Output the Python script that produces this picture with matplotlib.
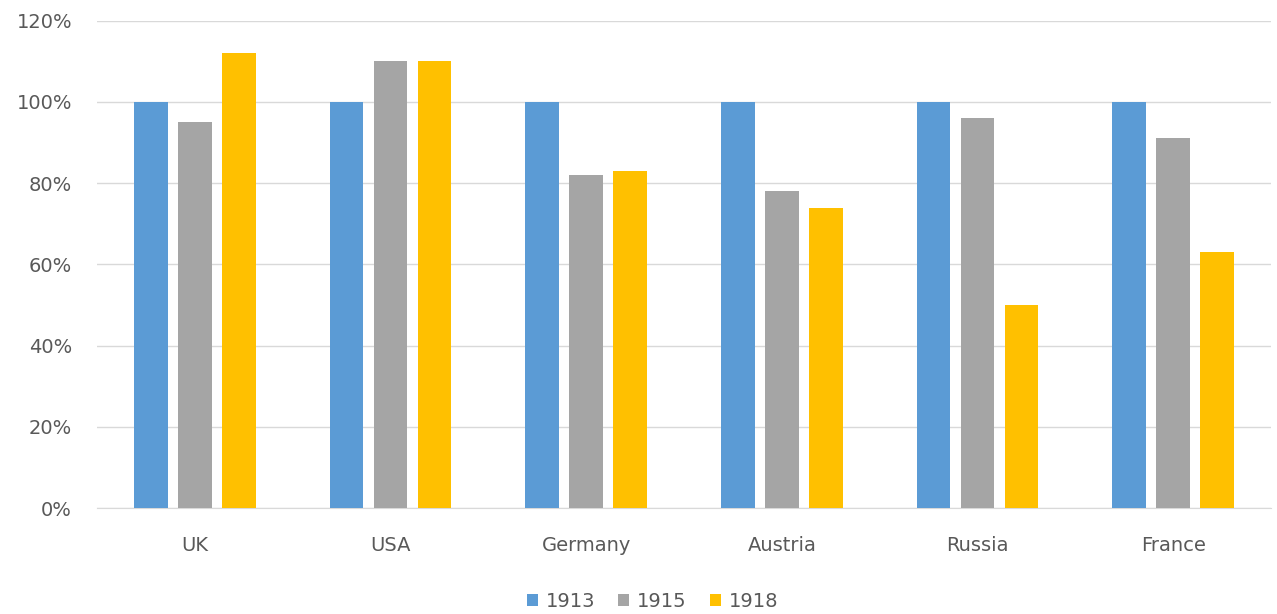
import matplotlib
matplotlib.use("Agg")
import matplotlib.pyplot as plt
import numpy as np
from matplotlib.ticker import PercentFormatter

# Données
countries = ["UK", "USA", "Germany", "Austria", "Russia", "France"]
years = ["1913", "1915", "1918"]
v1913 = [100, 100, 100, 100, 100, 100]
v1915 = [95, 110, 82, 78, 96, 91]
v1918 = [112, 110, 83, 74, 50, 63]
colors = ["#5B9BD5", "#A5A5A5", "#FFC000"]

plt.rcParams['font.family'] = ['DejaVu Sans']

fig = plt.figure(figsize=(12.77, 6.14), dpi=100)
ax = fig.add_axes([0.076, 0.1726, 0.9193, 0.7937])

x = np.arange(len(countries))
width = 0.172
step = 0.225
for i, (vals, col, lab) in enumerate(zip([v1913, v1915, v1918], colors, years)):
    ax.bar(x + (i - 1) * step, vals, width, color=col, label=lab, zorder=3)

# Axes et quadrillage
ax.set_xlim(-0.5, len(countries) - 0.5)
ax.set_ylim(0, 120)
ax.set_yticks(np.arange(0, 121, 20))
ax.yaxis.set_major_formatter(PercentFormatter(decimals=0))
ax.set_xticks(x)
ax.set_xticklabels(countries)
ax.grid(axis='y', color='#D9D9D9', linewidth=1, zorder=0)
for s in ["top", "right", "left"]:
    ax.spines[s].set_visible(False)
ax.spines["bottom"].set_color('#D9D9D9')
ax.tick_params(axis='both', length=0, labelsize=14, labelcolor='#595959')
ax.tick_params(axis='x', pad=20)
ax.tick_params(axis='y', pad=18)

fig.legend(loc='center', bbox_to_anchor=(0.511, 0.02), ncol=3, frameon=False,
           fontsize=14, handlelength=0.55, handleheight=0.55, handletextpad=0.4,
           columnspacing=1.2, labelcolor='#595959')

fig.savefig("out.png", dpi=100)
